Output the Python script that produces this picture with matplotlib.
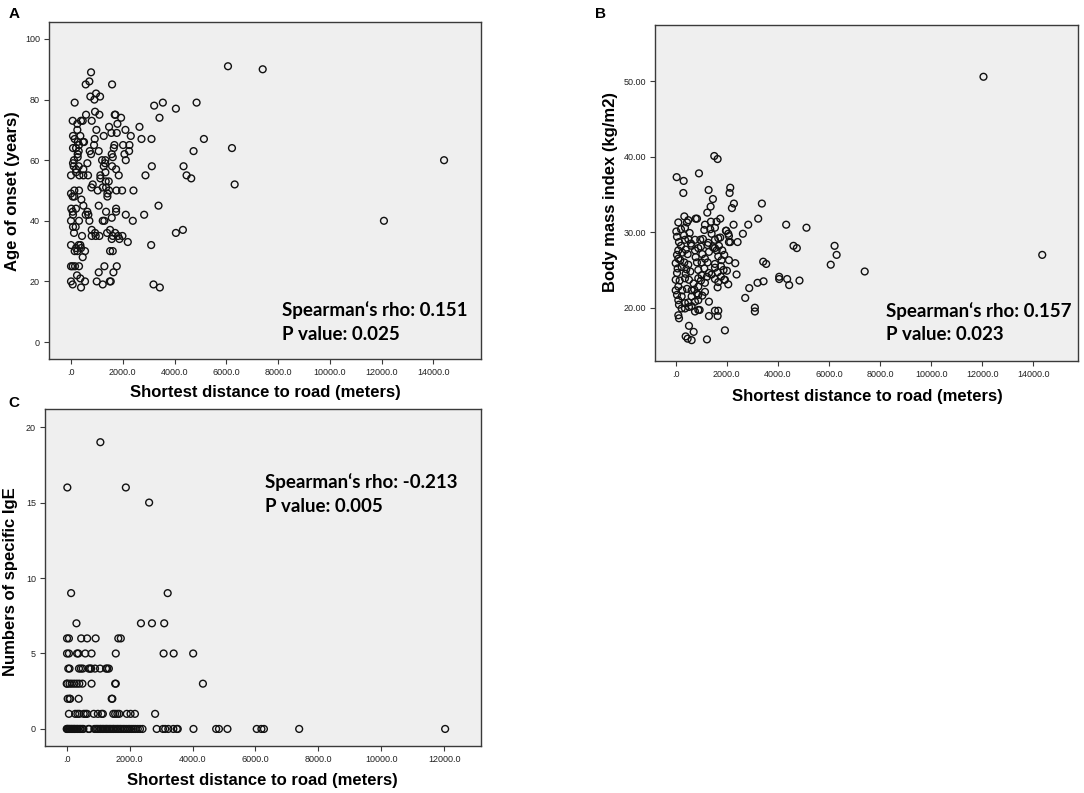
"""Scatter plots of distance to road vs age of onset, BMI and specific IgE count."""
import matplotlib
matplotlib.use("Agg")
import matplotlib.pyplot as plt
from matplotlib.ticker import FixedLocator, FixedFormatter

# --- panel A: age of onset ---
onset_dist = [
    6065, 7406, 774, 710, 568, 1587, 748, 903, 968, 1123, 142, 3213, 3548, 4052, 4852,
    3419, 581, 929, 1097, 1690, 1716, 1935, 65, 387, 452, 800, 245, 1794, 245, 981,
    1471, 2645, 2103, 1768, 1561, 77, 361, 1265, 2310, 2723, 3110, 5135, 916, 142, 258,
    464, 503, 310, 890, 1677, 2013, 2258, 77, 194, 6219, 1652, 297, 723, 1071, 2245,
    4735, 258, 774, 2065, 1574, 1613, 258, 1200, 116, 1329, 2116, 14413, 77, 632, 1316,
    103, 297, 1265, 1587, 3123, 4348, 194, 1742, 477, 1329, 0, 323, 477, 658, 1135,
    1845, 2877, 4465, 4645, 194, 1135, 1342, 1458, 839, 6323, 1226, 787, 1355, 129, 310,
    1032, 1471, 1755, 1974, 2413, 0, 1406, 65, 129, 1406, 400, 477, 1071, 3381, 1742,
    10, 194, 65, 632, 1355, 1742, 568, 671, 2116, 2826, 77, 0, 310, 710, 1226,
    1290, 2387, 12090, 1574, 181, 77, 800, 4323, 4052, 929, 1394, 1703, 116, 426, 800,
    955, 1097, 1613, 1819, 1987, 1510, 1574, 1871, 2194, 0, 297, 361, 3097, 194, 387,
    142, 245, 542, 1510, 1613, 452, 0, 65, 155, 310, 1290, 1768, 1071, 1639, 232,
    361, 0, 542, 994, 1497, 1535, 65, 1226, 3187, 387, 3432,
]
onset_age = [
    91, 90, 89, 86, 85, 85, 81, 80, 82, 81, 79, 78, 79, 77, 79,
    74, 75, 76, 75, 75, 75, 74, 73, 73, 73, 73, 72, 72, 70, 70,
    71, 71, 70, 69, 69, 68, 68, 68, 68, 67, 67, 67, 67, 67, 66,
    66, 66, 65, 65, 65, 65, 65, 64, 64, 64, 64, 63, 63, 63, 63,
    63, 62, 62, 62, 62, 61, 61, 60, 60, 60, 60, 60, 59, 59, 59,
    58, 58, 58, 58, 58, 58, 57, 57, 57, 56, 55, 55, 55, 55, 55,
    55, 55, 55, 54, 56, 54, 53, 53, 52, 52, 51, 51, 51, 50, 50,
    50, 50, 50, 50, 50, 49, 49, 48, 48, 48, 47, 45, 45, 45, 44,
    44, 44, 43, 43, 43, 43, 42, 42, 42, 42, 42, 40, 40, 40, 40,
    40, 40, 40, 41, 38, 38, 37, 37, 36, 36, 36, 36, 36, 35, 35,
    35, 35, 35, 35, 35, 37, 34, 34, 33, 32, 32, 32, 32, 31, 31,
    30, 30, 30, 30, 30, 28, 25, 25, 25, 25, 25, 25, 23, 23, 22,
    21, 20, 20, 20, 20, 20, 19, 19, 19, 18, 18,
]

# --- panel B: body mass index ---
bmi_dist = [
    1510, 1641, 38, 312, 911, 299, 1289, 2136, 2110, 1458, 2279, 2201, 1367, 1237, 3374,
    3230, 4325, 5120, 4612, 4742, 3426, 3543, 4052, 4052, 4364, 4442, 4846, 3439, 3204, 2879,
    2722, 3100, 3100, 2383, 2331, 2840, 2631, 2423, 2266, 2084, 1980, 2136, 2058, 1927, 1224,
    1927, 520, 703, 390, 468, 624, 129, 103, 1302, 1536, 1667, 1641, 1302,
    338, 103, 442, 781, 833, 1146, 1380, 1602, 1745, 494, 25, 207, 364, 325, 546,
    51, 1120, 1354, 1536, 1966, 1406, 1667, 1745, 2058, 129, 364, 494, 598, 755, 963,
    1067, 1276, 1536, 1693, 1458, 2084, 207, 624, 989, 1250, 103, 260, 51, 390, 468,
    755, 885, 1302, 1536, 1602, 1823, 1041, 1901, 103, 181, 0, 338, 781, 833, 1146,
    1015, 1250, 1667, 1797, 2084, 1536, 494, 77, 234, 416, 51, 390, 572, 885, 1120,
    1302, 1536, 1771, 1875, 2006, 1641, 1015, 1406, 1771, 0, 155, 364, 520, 703, 885,
    989, 1146, 1224, 1536, 1667, 1901, 1641, 103, 885, 0, 260, 442, 624, 729, 833,
    1146, 51, 234, 624, 885, 1041, 103, 364, 494, 755, 885, 129, 624, 234, 364,
    755, 885, 937, 520,
    12050, 14350, 6070, 6220, 6300, 7400,
]
bmi_value = [
    40.1, 39.7, 37.3, 36.8, 37.8, 35.2, 35.6, 35.9, 35.2, 34.4, 33.8, 33.2, 33.4, 32.6, 33.8,
    31.8, 31.0, 30.6, 28.2, 27.9, 26.1, 25.8, 24.1, 23.8, 23.8, 23.0, 23.6, 23.5, 23.3, 22.6,
    21.3, 20.0, 19.5, 24.4, 25.9, 31.0, 29.8, 28.7, 31.0, 29.5, 30.2, 28.7, 23.1, 23.7, 15.8,
    17.0, 17.6, 16.8, 16.2, 15.9, 15.7, 18.6, 19.0, 18.9, 19.6, 19.6, 18.9, 20.8,
    32.1, 31.3, 31.3, 31.8, 31.8, 31.0, 31.4, 31.4, 31.8, 31.6, 30.1, 30.4, 30.6, 29.6, 29.9,
    29.4, 30.3, 30.4, 30.6, 30.2, 29.8, 29.2, 29.3, 29.8, 28.7, 29.0, 29.1, 28.5, 29.0, 29.0,
    29.1, 28.6, 29.0, 28.2, 28.0, 28.7, 28.2, 28.2, 28.1, 28.3, 27.6, 27.3, 27.0, 27.7, 27.1,
    27.6, 27.9, 27.4, 27.9, 27.6, 27.6, 27.1, 27.0, 26.5, 26.3, 25.9, 26.0, 26.7, 26.0, 26.5,
    26.0, 26.0, 26.8, 26.3, 26.3, 25.8, 25.7, 25.2, 25.4, 25.1, 24.6, 24.5, 24.8, 25.0, 25.2,
    24.6, 25.3, 25.5, 25.0, 24.9, 24.7, 24.3, 24.4, 24.1, 23.7, 23.6, 23.9, 23.7, 23.2, 23.9,
    23.6, 23.3, 24.1, 23.8, 23.4, 23.7, 22.7, 22.8, 22.8, 22.3, 22.3, 22.5, 22.3, 22.4, 21.9,
    22.1, 21.7, 21.5, 21.5, 21.7, 21.6, 21.0, 20.6, 20.7, 20.8, 21.0, 20.4, 20.2, 19.9, 19.9,
    19.5, 19.7, 19.7, 20.1,
    50.6, 27.0, 25.7, 28.2, 27.0, 24.8,
]

# --- panel C: numbers of specific IgE, distances grouped by IgE count ---
ige_19 = [1070]
ige_16 = [20, 1880]
ige_15 = [2620]
ige_9 = [140, 3210]
ige_7 = [310, 2360, 2710, 3100]
ige_6 = [10, 70, 460, 650, 920, 1640, 1720]
ige_5 = [10, 70, 330, 370, 590, 790, 1560, 3080, 3400, 4020]
ige_4 = [50, 90, 390, 450, 510, 700, 740, 780, 900, 1060, 1250, 1290, 1340]
ige_3 = [0, 20, 90, 160, 240, 320, 400, 500, 790, 1540, 1560, 4330]
ige_2 = [30, 90, 110, 380, 1430, 1450]
ige_1 = [70, 270, 340, 400, 540, 600, 650, 860, 990, 1110, 1150, 1480, 1540, 1610, 1670,
         1910, 2030, 2170, 2810]
ige_0 = [0, 15, 40, 70, 95, 130, 160, 190, 230, 250, 290, 330, 360, 410, 440, 490, 530,
         690, 720, 880, 930, 970, 1010, 1060, 1090, 1140, 1170, 1220, 1260, 1290, 1340,
         1380, 1420, 1470, 1500, 1550, 1600, 1640, 1690, 1730, 1790, 1840, 1900, 1960,
         2010, 2070, 2130, 2190, 2260, 2330, 2410, 2860, 3060, 3130, 3230, 3390, 3500,
         3530, 4030, 4750, 4840, 5110, 6040, 6190, 6270, 7390, 12030]
ige_groups = [(19, ige_19), (16, ige_16), (15, ige_15), (9, ige_9), (7, ige_7), (6, ige_6),
              (5, ige_5), (4, ige_4), (3, ige_3), (2, ige_2), (1, ige_1), (0, ige_0)]
ige_dist = [d for _, ds in ige_groups for d in ds]
ige_count = [n for n, ds in ige_groups for _ in ds]

X_TICKS_AB = [0, 2000, 4000, 6000, 8000, 10000, 12000, 14000]
X_TICKS_C = [0, 2000, 4000, 6000, 8000, 10000, 12000]
X_LABEL = "Shortest distance to road (meters)"

W, H = 1084, 793


def fx(px):
    return px / W


def fy(py):
    return 1 - py / H


def style_axes(ax, xticks, yticks, ylabels):
    ax.set_facecolor("#efefef")
    for sp in ax.spines.values():
        sp.set_color("#3a3a3a")
        sp.set_linewidth(1.0)
    ax.xaxis.set_major_locator(FixedLocator(xticks))
    ax.xaxis.set_major_formatter(FixedFormatter([".0"] + [f"{t:.1f}" for t in xticks[1:]]))
    ax.yaxis.set_major_locator(FixedLocator(yticks))
    ax.yaxis.set_major_formatter(FixedFormatter(ylabels))
    ax.tick_params(direction="out", length=3.5, width=0.8, color="#3a3a3a",
                   labelsize=6.5, labelcolor="#222222", pad=3)


def scatter(ax, x, y):
    ax.scatter(x, y, s=24, facecolors="none", edgecolors="#111111", linewidths=1.0, zorder=3)


plt.rcParams["font.family"] = ["Liberation Sans", "DejaVu Sans"]
fig = plt.figure(figsize=(10.84, 7.93), dpi=100)

axA = fig.add_axes([fx(49), fy(359), fx(432), 337 / H])
axB = fig.add_axes([fx(655), fy(361), fx(423), 336 / H])
axC = fig.add_axes([fx(45), fy(746), fx(436), 337 / H])

scatter(axA, onset_dist, onset_age)
axA.set_xlim(-850, 15840)
axA.set_ylim(-5.6, 105.6)
style_axes(axA, X_TICKS_AB, [0, 20, 40, 60, 80, 100], ["0", "20", "40", "60", "80", "100"])

scatter(axB, bmi_dist, bmi_value)
axB.set_xlim(-810, 15750)
axB.set_ylim(12.94, 57.46)
style_axes(axB, X_TICKS_AB, [20, 30, 40, 50], ["20.00", "30.00", "40.00", "50.00"])

scatter(axC, ige_dist, ige_count)
axC.set_xlim(-690, 13170)
axC.set_ylim(-1.13, 21.2)
style_axes(axC, X_TICKS_C, [0, 5, 10, 15, 20], ["0", "5", "10", "15", "20"])

# axis titles
lab = dict(fontsize=12, fontweight="bold", ha="center", va="center")
fig.text(fx(265), fy(393), X_LABEL, **lab)
fig.text(fx(867), fy(397), X_LABEL, **lab)
fig.text(fx(262), fy(780), X_LABEL, **lab)
fig.text(fx(13), fy(191), "Age of onset (years)", rotation=90, **lab)
fig.text(fx(610), fy(192), "Body mass index (kg/m2)", rotation=90, **lab)
fig.text(fx(11), fy(582), "Numbers of specific IgE", rotation=90, **lab)

# panel letters
for letter, (px, py) in {"A": (14, 14), "B": (601, 14), "C": (14, 403)}.items():
    fig.text(fx(px), fy(py), letter, fontsize=11, fontweight="bold", ha="center", va="center")

# correlation annotations
stat = dict(fontsize=13.5, fontweight="bold", ha="left", va="center", family=["Lato", "DejaVu Sans"])
fig.text(fx(282), fy(310), "Spearman\u2018s rho: 0.151", **stat)
fig.text(fx(282), fy(334), "P value: 0.025", **stat)
fig.text(fx(886), fy(311), "Spearman\u2018s rho: 0.157", **stat)
fig.text(fx(886), fy(334), "P value: 0.023", **stat)
fig.text(fx(265), fy(482), "Spearman\u2018s rho: -0.213", **stat)
fig.text(fx(265), fy(507), "P value: 0.005", **stat)

fig.savefig("out.png", dpi=100)
plt.close(fig)
